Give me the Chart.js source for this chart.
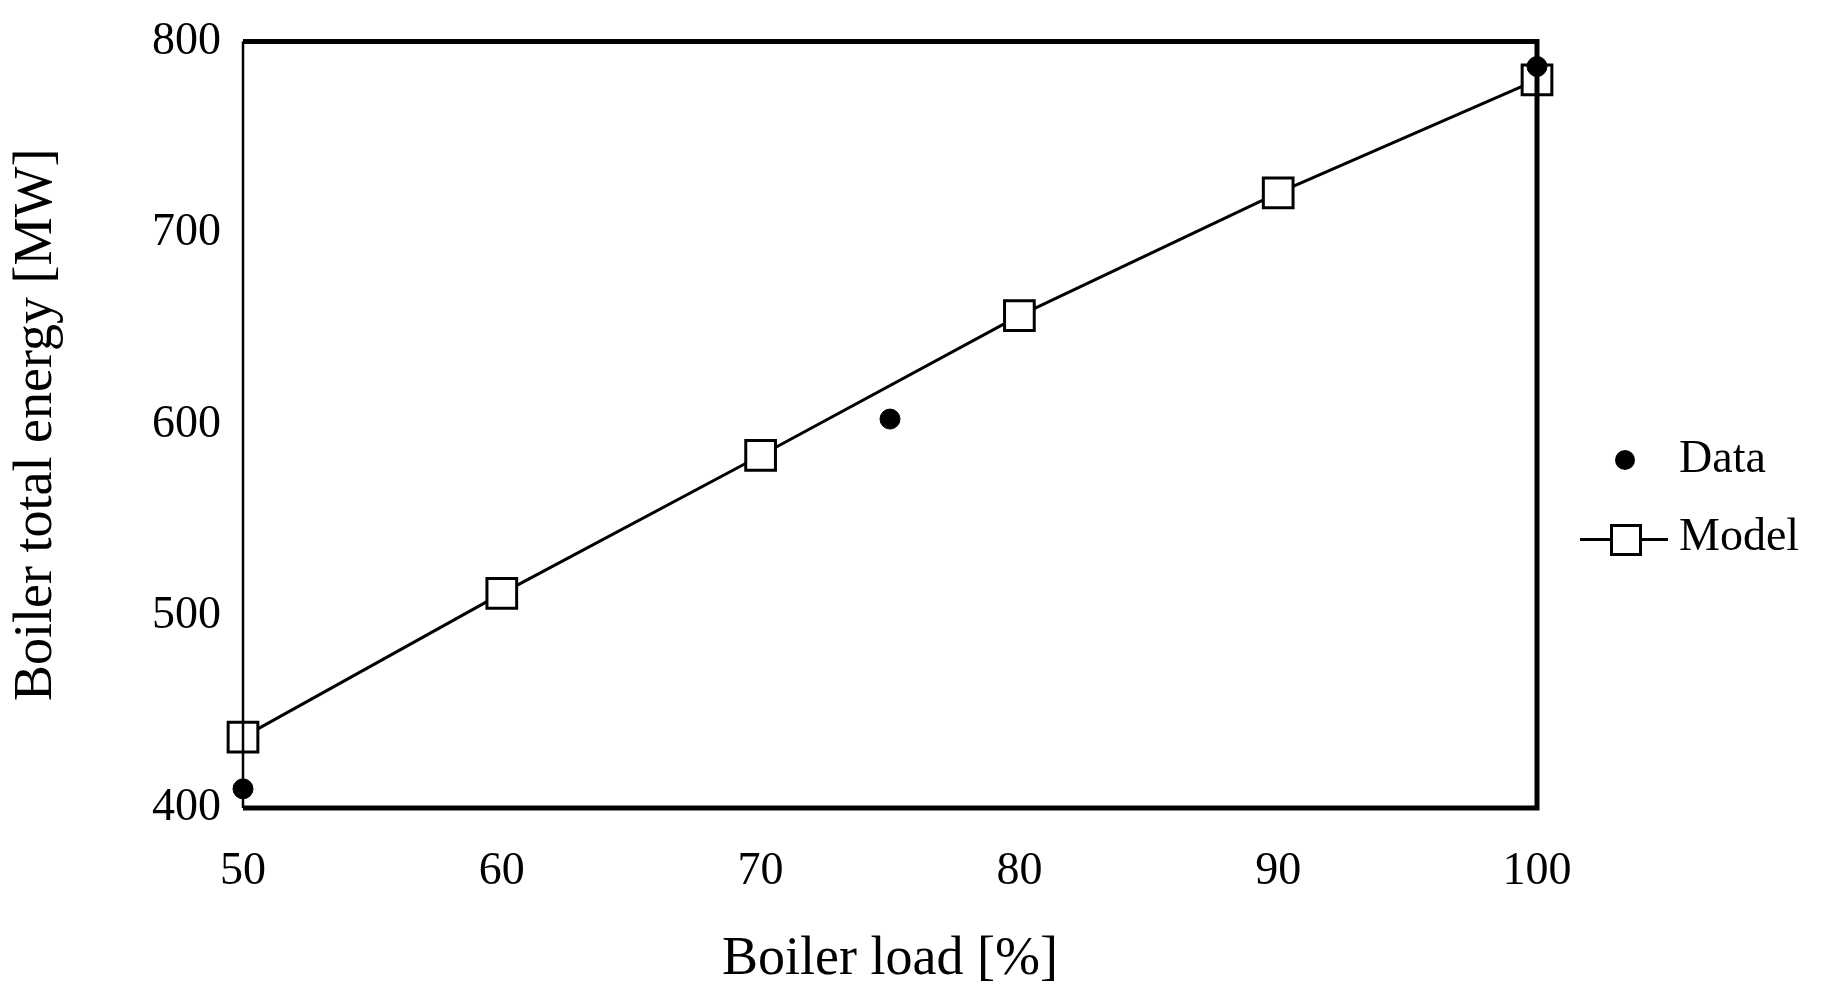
<!DOCTYPE html>
<html><head><meta charset="utf-8">
<script src="https://cdn.jsdelivr.net/npm/chart.js@4"></script>
<style>
html,body{margin:0;padding:0;background:#fff;}
#wrap{position:relative;width:1828px;height:996px;}
.lg{position:absolute;font-family:"Liberation Serif";font-size:46px;color:#000;}
</style></head><body>
<div id="wrap"><canvas id="c" width="1828" height="996"></canvas>
<div class="lg" style="left:1615px;top:450px;width:20px;height:20px;border-radius:50%;background:#000"></div>
<div class="lg" style="left:1679px;top:430px">Data</div>
<div class="lg" style="left:1580px;top:538px;width:88px;height:3px;background:#000"></div>
<div class="lg" style="left:1610px;top:524px;width:26px;height:26px;border:3px solid #000;background:#fff"></div>
<div class="lg" style="left:1679px;top:508px">Model</div>
</div>
<script>
const dataX=[50,75,100];
const dataY=[410,603,787];
const modelX=[50,60,70,80,90,100];
const modelY=[437,512,584,657,721,780];
const xTicks=[50,60,70,80,90,100];
const yTicks=[400,500,600,700,800];
const F="Liberation Serif";
const frame={id:'frame',afterDatasetsDraw(ch){const a=ch.chartArea,c=ch.ctx;c.save();c.strokeStyle='#000';
c.lineWidth=5;c.beginPath();c.moveTo(a.left,a.top);c.lineTo(a.right,a.top);c.lineTo(a.right,a.bottom);c.lineTo(a.left,a.bottom);c.stroke();
c.lineWidth=2.5;c.beginPath();c.moveTo(a.left,a.top);c.lineTo(a.left,a.bottom);c.stroke();c.restore();}};
new Chart(document.getElementById('c'),{type:'scatter',
data:{datasets:[
{label:'Model',data:modelX.map((x,i)=>({x,y:modelY[i]})),showLine:true,borderColor:'#000',borderWidth:3,pointStyle:'rect',pointRadius:21,pointBackgroundColor:'#fff',pointBorderColor:'#000',pointBorderWidth:3,clip:false,order:2},
{label:'Data',data:dataX.map((x,i)=>({x,y:dataY[i]})),pointRadius:10,pointBackgroundColor:'#000',pointBorderColor:'#000',clip:false,order:1}
]},
options:{responsive:false,animation:false,events:[],
layout:{padding:{top:41,right:291,left:0,bottom:0}},
plugins:{legend:{display:false},tooltip:{enabled:false}},
scales:{
x:{type:'linear',min:50,max:100,afterBuildTicks(s){s.ticks=xTicks.map(v=>({value:v}));},afterFit(s){s.height=188;},
grid:{display:false},border:{display:false},ticks:{color:'#000',padding:28,font:{family:F,size:46}},
title:{display:true,text:'Boiler load [%]',color:'#000',font:{family:F,size:54},padding:{top:8}}},
y:{min:400,max:800,afterBuildTicks(s){s.ticks=yTicks.map(v=>({value:v}));},afterFit(s){s.width=243;},
grid:{display:false},border:{display:false},ticks:{color:'#000',padding:14,font:{family:F,size:46}},
title:{display:true,text:'Boiler total energy [MW]',color:'#000',font:{family:F,size:54},padding:{bottom:20}}}
}},plugins:[frame]});
</script></body></html>
